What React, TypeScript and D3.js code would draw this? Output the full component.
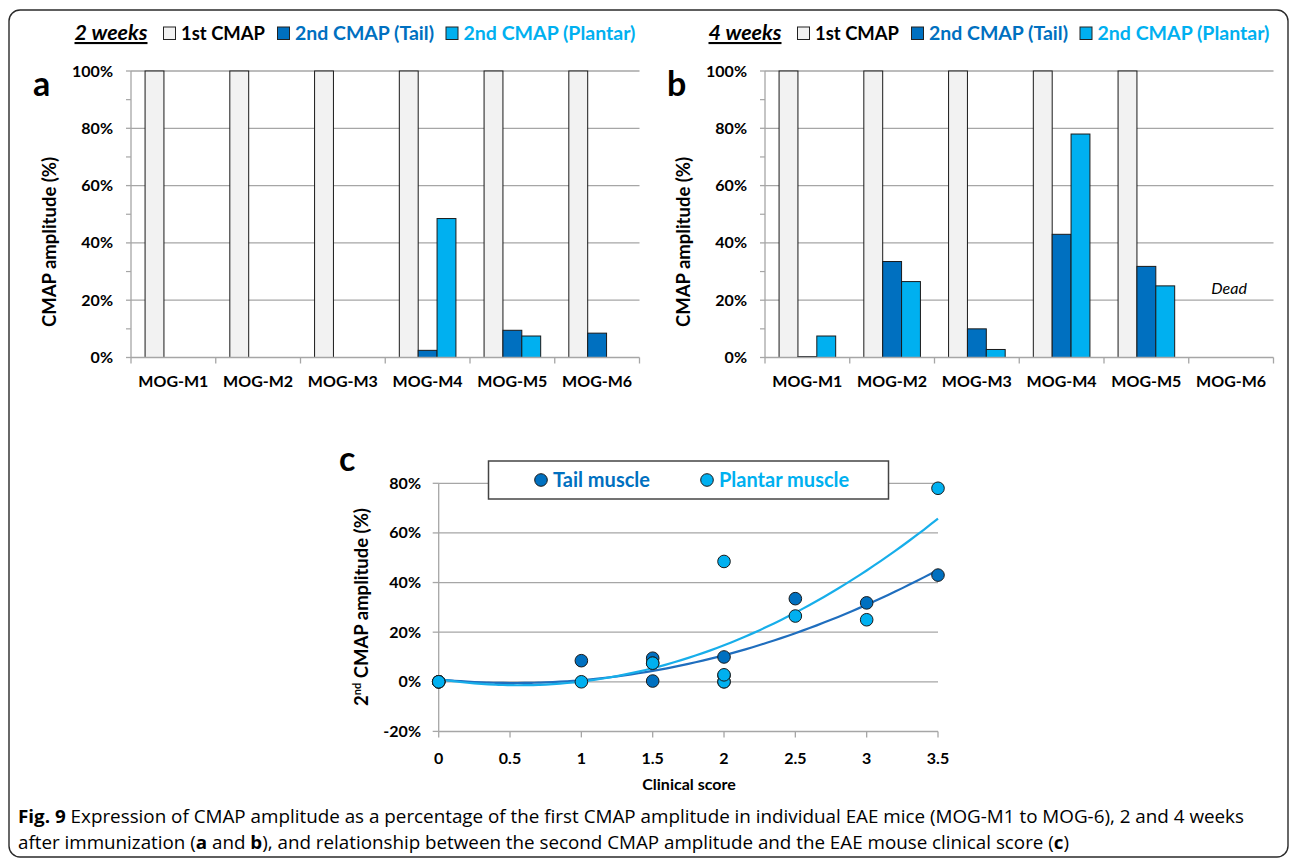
import React from "react";
import * as d3 from "d3";

const categories = ["MOG-M1", "MOG-M2", "MOG-M3", "MOG-M4", "MOG-M5", "MOG-M6"];
const seriesNames = ["1st CMAP", "2nd CMAP (Tail)", "2nd CMAP (Plantar)"];
const week2First = [100, 100, 100, 100, 100, 100];
const week2Tail = [0, 0, 0, 2.5, 9.5, 8.5];
const week2Plantar = [0, 0, 0, 48.5, 7.5, 0];
const week4First: (number | null)[] = [100, 100, 100, 100, 100, null];
const week4Tail: (number | null)[] = [0.3, 33.5, 10, 43, 31.8, null];
const week4Plantar: (number | null)[] = [7.5, 26.5, 2.8, 78, 25, null];
const week2Scores = [0, 0, 2, 2, 1.5, 1];
const week4Scores: (number | null)[] = [1.5, 2.5, 2, 3.5, 3, null];
const barTicks = [0, 20, 40, 60, 80, 100];
const barMinorTicks = [10, 30, 50, 70, 90];
const scoreTicks = [0, 0.5, 1, 1.5, 2, 2.5, 3, 3.5];
const ampTicks = [-20, 0, 20, 40, 60, 80];

const FONT = "Lato, 'Open Sans', sans-serif";
const CAPFONT = "'Open Sans', 'Noto Sans', sans-serif";
const GRAY = "#F2F2F2";
const DARK = "#0070C0";
const LIGHT = "#00B0F0";
const GRID = "#A6A6A6";
const fills = [GRAY, DARK, LIGHT];
const textCols = ["#000", DARK, LIGHT];
const legendWidths = [84, 139, 172];

function quadFit(xs: number[], ys: number[]) {
  const n = xs.length;
  let s1 = 0, s2 = 0, s3 = 0, s4 = 0, t0 = 0, t1 = 0, t2 = 0;
  for (let i = 0; i < n; i++) {
    const x = xs[i], y = ys[i];
    s1 += x; s2 += x * x; s3 += x * x * x; s4 += x * x * x * x;
    t0 += y; t1 += x * y; t2 += x * x * y;
  }
  const M = [[n, s1, s2], [s1, s2, s3], [s2, s3, s4]];
  const T = [t0, t1, t2];
  const det = (m: number[][]) =>
    m[0][0] * (m[1][1] * m[2][2] - m[1][2] * m[2][1]) -
    m[0][1] * (m[1][0] * m[2][2] - m[1][2] * m[2][0]) +
    m[0][2] * (m[1][0] * m[2][1] - m[1][1] * m[2][0]);
  const D = det(M);
  const coef = [0, 1, 2].map((k) => {
    const Mk = M.map((row, r) => row.map((v, c) => (c === k ? T[r] : v)));
    return det(Mk) / D;
  });
  return (x: number) => coef[0] + coef[1] * x + coef[2] * x * x;
}

type BarProps = {
  dx: number;
  letter: string;
  title: string;
  first: (number | null)[];
  tail: (number | null)[];
  plantar: (number | null)[];
  dead?: number;
};

function BarPanel({ dx, letter, title, first, tail, plantar, dead }: BarProps) {
  const left = 131 + dx;
  const right = 639.5 + dx;
  const x = d3.scaleBand<string>().domain(categories).range([left, right]);
  const inner = d3
    .scaleBand<number>()
    .domain([0, 1, 2])
    .range([x.bandwidth() * 0.166, x.bandwidth() * 0.834]);
  const y = d3.scaleLinear().domain([0, 100]).range([357.5, 71]);
  const series = [first, tail, plantar];
  const legendSw = [163.5 + dx, 277.5 + dx, 446 + dx];
  const legendTx = [181 + dx, 295 + dx, 463.5 + dx];
  return (
    <g>
      {/* legend */}
      <text x={74.5 + dx} y={40} fontFamily={FONT} fontSize={21} fontWeight="bold" fontStyle="italic" textDecoration="underline" textLength={73} lengthAdjust="spacingAndGlyphs">
        {title}
      </text>
      {seriesNames.map((s, i) => (
        <g key={s}>
          <rect x={legendSw[i]} y={27} width={12} height={12.5} fill={fills[i]} stroke="#222" strokeWidth={1} />
          <text x={legendTx[i]} y={40} fontFamily={FONT} fontSize={19.5} fontWeight="bold" fill={textCols[i]} textLength={legendWidths[i]} lengthAdjust="spacingAndGlyphs">
            {s}
          </text>
        </g>
      ))}
      {/* panel letter */}
      <text x={33 + dx} y={96} fontFamily={FONT} fontSize={34} fontWeight="bold">
        {letter}
      </text>
      {/* gridlines */}
      {barTicks.filter((t) => t > 0).map((t) => (
        <line key={t} x1={left} x2={right} y1={y(t)} y2={y(t)} stroke={GRID} strokeWidth={1.3} />
      ))}
      {/* y axis */}
      <line x1={left} x2={left} y1={y(100)} y2={y(0)} stroke={GRID} strokeWidth={1.3} />
      {barTicks.map((t) => (
        <g key={t}>
          <line x1={left - 5} x2={left} y1={y(t)} y2={y(t)} stroke={GRID} strokeWidth={1.3} />
          <text x={left - 18} y={y(t) + 5.5} textAnchor="end" fontFamily={FONT} fontSize={16} fontWeight="bold">
            {t}%
          </text>
        </g>
      ))}
      {barMinorTicks.map((t) => (
        <line key={t} x1={left - 5} x2={left} y1={y(t)} y2={y(t)} stroke={GRID} strokeWidth={1.2} />
      ))}
      {/* bars */}
      {categories.map((c, ci) =>
        series.map((ser, si) => {
          const v = ser[ci];
          if (v === null || v === 0) return null;
          return (
            <rect
              key={c + si}
              x={(x(c) as number) + (inner(si) as number)}
              y={y(v)}
              width={inner.bandwidth()}
              height={y(0) - y(v)}
              fill={fills[si]}
              stroke="#1a1a1a"
              strokeWidth={1}
            />
          );
        })
      )}
      {/* x axis */}
      <line x1={left} x2={right} y1={y(0)} y2={y(0)} stroke={GRID} strokeWidth={1.5} />
      {[...categories.map((c) => x(c) as number), right].map((px, i) => (
        <line key={i} x1={px} x2={px} y1={y(0)} y2={y(0) + 6} stroke={GRID} strokeWidth={1.3} />
      ))}
      {categories.map((c) => (
        <text key={c} x={(x(c) as number) + x.bandwidth() / 2} y={387} textAnchor="middle" fontFamily={FONT} fontSize={16} fontWeight="bold">
          {c}
        </text>
      ))}
      {/* y label */}
      <text
        transform={`translate(${56 + dx},242) rotate(-90)`}
        textAnchor="middle"
        fontFamily={FONT}
        fontSize={18.5}
        fontWeight="bold"
      >
        CMAP amplitude (%)
      </text>
      {dead !== undefined && (
        <text x={(x(categories[dead]) as number) + x.bandwidth() / 2 - 2} y={y(24) + 5} textAnchor="middle" fontFamily={FONT} fontSize={16} fontStyle="italic">
          Dead
        </text>
      )}
    </g>
  );
}

function ScatterPanel() {
  const xs = d3.scaleLinear().domain([0, 3.5]).range([438.7, 938]);
  const ys = d3.scaleLinear().domain([-20, 80]).range([731.4, 483.3]);
  const pts = (amp2: (number | null)[], amp4: (number | null)[]) => {
    const out: [number, number][] = [];
    week2Scores.forEach((s, i) => {
      const a = amp2[i];
      if (s !== null && a !== null) out.push([s, a]);
    });
    week4Scores.forEach((s, i) => {
      const a = amp4[i];
      if (s !== null && a !== null) out.push([s, a]);
    });
    return out;
  };
  const tailPts = pts(week2Tail, week4Tail);
  const plantarPts = pts(week2Plantar, week4Plantar);
  const tailFit = quadFit(tailPts.map((p) => p[0]), tailPts.map((p) => p[1]));
  const plantarFit = quadFit(plantarPts.map((p) => p[0]), plantarPts.map((p) => p[1]));
  const grid = d3.range(0, 3.5001, 0.05);
  const line = d3
    .line<number>()
    .x((d) => xs(d))
    .curve(d3.curveMonotoneX);
  const tailPath = line.y((d) => ys(tailFit(d)))(grid) as string;
  const plantarPath = line.y((d) => ys(plantarFit(d)))(grid) as string;
  return (
    <g>
      <text x={339} y={471} fontFamily={FONT} fontSize={34} fontWeight="bold">
        c
      </text>
      {ampTicks.filter((t) => t > -20).map((t) => (
        <line key={t} x1={xs(0)} x2={xs(3.5)} y1={ys(t)} y2={ys(t)} stroke={GRID} strokeWidth={1.3} />
      ))}
      <line x1={xs(0)} x2={xs(0)} y1={ys(80)} y2={ys(-20)} stroke={GRID} strokeWidth={1.3} />
      <line x1={xs(0)} x2={xs(3.5)} y1={ys(-20)} y2={ys(-20)} stroke={GRID} strokeWidth={1.5} />
      {ampTicks.map((t) => (
        <g key={t}>
          <line x1={xs(0) - 6} x2={xs(0)} y1={ys(t)} y2={ys(t)} stroke={GRID} strokeWidth={1.3} />
          <text x={421} y={ys(t) + 5.5} textAnchor="end" fontFamily={FONT} fontSize={16} fontWeight="bold">
            {t}%
          </text>
        </g>
      ))}
      {scoreTicks.map((t) => (
        <g key={t}>
          <line x1={xs(t)} x2={xs(t)} y1={ys(-20)} y2={ys(-20) + 6} stroke={GRID} strokeWidth={1.3} />
          <text x={xs(t)} y={764} textAnchor="middle" fontFamily={FONT} fontSize={16} fontWeight="bold">
            {t}
          </text>
        </g>
      ))}
      <text x={689} y={790} textAnchor="middle" fontFamily={FONT} fontSize={16} fontWeight="bold">
        Clinical score
      </text>
      <text transform="translate(368,607) rotate(-90)" textAnchor="middle" fontFamily={FONT} fontSize={18.5} fontWeight="bold">
        2<tspan fontSize={11} dy={-7}>nd</tspan>
        <tspan dy={7}> CMAP amplitude (%)</tspan>
      </text>
      <path d={tailPath} fill="none" stroke="#1F6EBE" strokeWidth={2.2} />
      <path d={plantarPath} fill="none" stroke="#17AEEA" strokeWidth={2.2} />
      {tailPts.map((p, i) => (
        <circle key={"t" + i} cx={xs(p[0])} cy={ys(p[1])} r={6.3} fill={DARK} stroke="#1a1a1a" strokeWidth={1} />
      ))}
      {plantarPts.map((p, i) => (
        <circle key={"p" + i} cx={xs(p[0])} cy={ys(p[1])} r={6.3} fill={LIGHT} stroke="#1a1a1a" strokeWidth={1} />
      ))}
      {/* legend */}
      <rect x={488.5} y={461} width={400} height={38} fill="#fff" stroke="#444" strokeWidth={1.5} />
      <circle cx={541} cy={480} r={6.3} fill={DARK} stroke="#1a1a1a" strokeWidth={1} />
      <text x={553} y={487} fontFamily={FONT} fontSize={20} fontWeight="bold" fill={DARK}>
        Tail muscle
      </text>
      <circle cx={707} cy={480} r={6.3} fill={LIGHT} stroke="#1a1a1a" strokeWidth={1} />
      <text x={719} y={487} fontFamily={FONT} fontSize={20} fontWeight="bold" fill={LIGHT}>
        Plantar muscle
      </text>
    </g>
  );
}

export default function App() {
  return (
    <svg
      width={1293}
      height={860}
      viewBox="0 0 1293 860"
      style={{ position: "absolute", left: 0, top: 0, background: "#fff" }}
    >
      <rect x={0} y={0} width={1293} height={860} fill="#fff" />
      <rect x={9} y={10} width={1279} height={847} rx={11} fill="none" stroke="#2a2a2a" strokeWidth={1.4} />
      <BarPanel dx={0} letter="a" title="2 weeks" first={week2First} tail={week2Tail} plantar={week2Plantar} />
      <BarPanel dx={634} letter="b" title="4 weeks" first={week4First} tail={week4Tail} plantar={week4Plantar} dead={5} />
      <ScatterPanel />
      <text x={18} y={823} fontFamily={CAPFONT} fontSize={18} textLength={1226} lengthAdjust="spacingAndGlyphs">
        <tspan fontWeight="bold">Fig. 9</tspan> Expression of CMAP amplitude as a percentage of the first CMAP amplitude in individual EAE mice (MOG-M1 to MOG-6), 2 and 4 weeks
      </text>
      <text x={18} y={849} fontFamily={CAPFONT} fontSize={18} textLength={1051} lengthAdjust="spacingAndGlyphs">
        after immunization (<tspan fontWeight="bold">a</tspan> and <tspan fontWeight="bold">b</tspan>), and relationship between the second CMAP amplitude and the EAE mouse clinical score (<tspan fontWeight="bold">c</tspan>)
      </text>
    </svg>
  );
}
